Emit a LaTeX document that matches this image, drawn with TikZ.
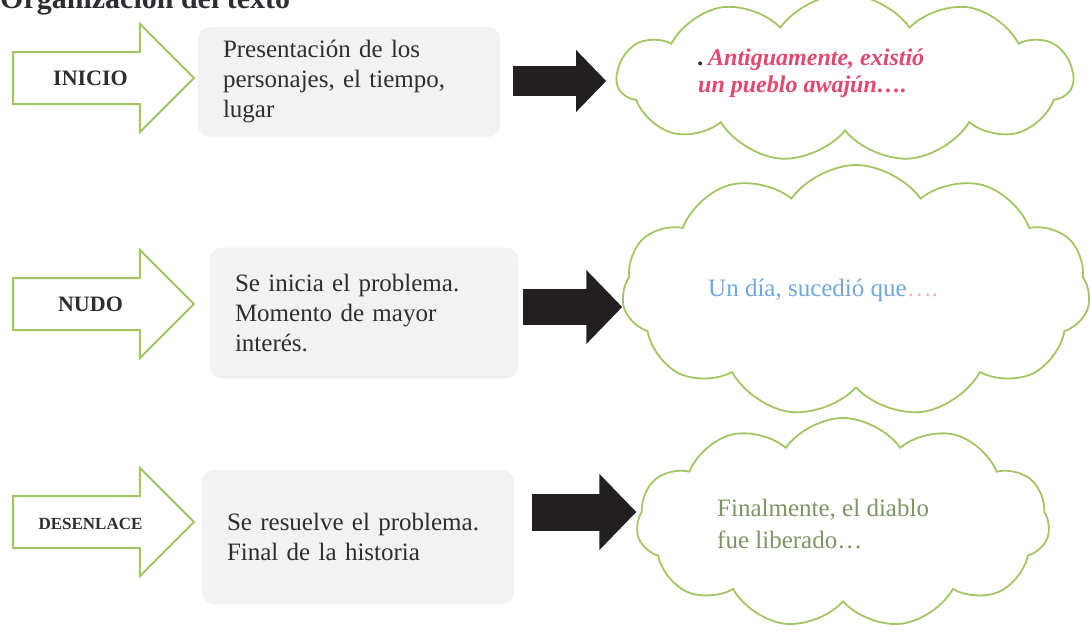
\documentclass[tikz,border=0pt]{standalone}
\usepackage{fontspec}
\setmainfont{Liberation Serif}
\usetikzlibrary{shapes.symbols,shapes.arrows,arrows.meta}
\definecolor{verde}{RGB}{162,198,98}
\definecolor{grisc}{RGB}{242,242,243}
\definecolor{negro}{RGB}{35,31,32}
\definecolor{rosa}{RGB}{228,72,112}
\definecolor{rosac}{RGB}{236,176,196}
\definecolor{celeste}{RGB}{112,168,222}
\definecolor{verdet}{RGB}{128,148,100}
\definecolor{texto}{RGB}{45,45,50}

\begin{document}
\begin{tikzpicture}[x=1pt, y=1pt,
	hueca/.style={single arrow, draw=verde, line width=2pt, fill=white, single arrow head extend=28pt, minimum height=181pt, minimum width=106pt, text height=15pt, text depth=0pt, inner ysep=17.5pt, anchor=tail, text=texto, font=\bfseries\fontsize{22}{26}\selectfont},
	caja/.style={fill=grisc, rounded corners=12pt, align=left, inner xsep=25pt, text=texto, font=\fontsize{25}{30}\selectfont},
	nube/.style={cloud, draw=verde, line width=1.8pt, fill=white, cloud puffs=11, cloud puff arc=110, cloud ignores aspect},
	negra/.style={draw=negro, -{Triangle[length=0pt 1 0, width=0pt 2 0]}}
]
\useasboundingbox (0,0) rectangle (1090,-635);

\node[anchor=base west, inner sep=0pt, text=texto, font=\bfseries\fontsize{30}{34}\selectfont] (titulo) at (0,-8) {Organización del texto};

\node[caja, text width=252pt, minimum height=110pt] (caja1) at (349,-82) {Presentación de los\\personajes, el tiempo,\\lugar};
\node[caja, text width=258pt, minimum height=131pt] (caja2) at (364,-313) {Se inicia el problema.\\Momento de mayor\\interés.};
\node[caja, text width=262pt, minimum height=134pt] (caja3) at (358,-537) {Se resuelve el problema.\\Final de la historia};

\node[hueca] (inicio) at (12,-78) {INICIO};
\node[hueca] (nudo) at (12,-304) {NUDO};
\node[hueca, font=\bfseries\fontsize{17}{20}\selectfont] (desenlace) at (12,-522) {DESENLACE};

\node[nube, minimum width=456pt, minimum height=168pt] (nube1) at (845,-78) {};
\node[nube, minimum width=468pt, minimum height=252pt] (nube2) at (856,-291) {};
\node[nube, minimum width=413pt, minimum height=210pt] (nube3) at (843,-523) {};

\node[anchor=base west, inner sep=0pt, align=left, text=rosa, font=\bfseries\itshape\fontsize{24}{27}\selectfont] (texto1) at (698,-92) {{\color{texto}.}\,Antiguamente, existió\\un pueblo awajún….};
\node[anchor=base west, inner sep=0pt, text=celeste, font=\fontsize{25}{30}\selectfont] (texto2) at (708,-296) {Un día, sucedió que{\color{rosac}….}};
\node[anchor=base west, inner sep=0pt, align=left, text=verdet, font=\fontsize{25}{32}\selectfont] (texto3) at (717,-548) {Finalmente, el diablo\\fue liberado…};

\coordinate (p1) at (513,-81);
\coordinate (p2) at (523,-307);
\coordinate (p3) at (532,-512);
\draw[negra, line width=30pt, shorten >=9pt] (p1) -- (p1 -| nube1.west);
\draw[negra, line width=36pt] (p2) -- (p2 -| nube2.west);
\draw[negra, line width=37pt] (p3) -- (p3 -| nube3.west);
\end{tikzpicture}
\end{document}
